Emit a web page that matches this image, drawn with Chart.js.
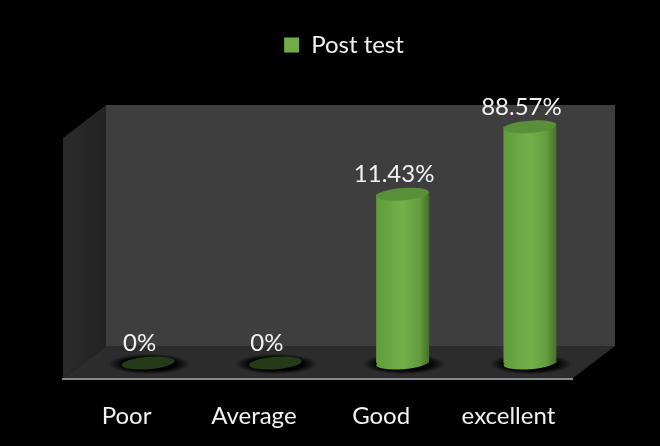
<!DOCTYPE html>
<html>
<head>
<meta charset="utf-8">
<title>Post test</title>
<script src="https://cdn.jsdelivr.net/npm/chart.js@4/dist/chart.umd.min.js"></script>
<style>
  html, body { margin: 0; padding: 0; background: #000; }
  #wrap { position: relative; width: 660px; height: 446px; }
</style>
</head>
<body>
<div id="wrap"><canvas id="chart"></canvas></div>
<script>
const categories = ['Poor', 'Average', 'Good', 'excellent'];
const postTest = [0, 0, 11.43, 88.57];

const legendGreen = '#70ad47';
const fontFamily = 'Lato';
const fontSize = 24;
const textColor = '#f2f2f2';

// the original's bars are not linear in their labels, a log axis puts them where they were
const yMin = 0.0673;
const yMax = 546;

const barShare = 0.416;
const capRy = 6.2;
const capTilt = -0.075;

function barGradient(c) {
    if (c.dataIndex === undefined) return legendGreen;
    const scale = c.chart.scales.x;
    const x = scale.getPixelForValue(c.dataIndex);
    const half = scale.width / categories.length * barShare / 2;
    // scales are not laid out yet on the first pass
    if (!isFinite(x) || !isFinite(half)) return legendGreen;
    const g = c.chart.ctx.createLinearGradient(x - half, 0, x + half, 0);
    g.addColorStop(0, '#5f9c3b');
    g.addColorStop(0.5, '#72b14a');
    g.addColorStop(0.82, '#639c3e');
    g.addColorStop(1, '#44702b');
    return g;
}

// walls and floor behind the bars
const scenery = {
    id: 'scenery',
    beforeDraw(chart) {
        const ctx = chart.ctx;
        ctx.save();
        ctx.fillStyle = '#000';
        ctx.fillRect(0, 0, chart.width, chart.height);

        ctx.fillStyle = '#3e3e3e';
        ctx.fillRect(106, 105, 509, 241);

        let g = ctx.createLinearGradient(63, 0, 106, 0);
        g.addColorStop(0, '#2b2b2b');
        g.addColorStop(1, '#232323');
        ctx.fillStyle = g;
        poly(ctx, [[63, 138], [106, 105], [106, 346], [63, 378]]);

        ctx.fillStyle = '#2c2c2c';
        poly(ctx, [[63, 378], [106, 346], [615, 346], [573, 378]]);

        ctx.fillStyle = '#8a8a8a';
        ctx.fillRect(62, 378, 511, 2);
        ctx.restore();
    },
    beforeDatasetsDraw(chart) {
        const ctx = chart.ctx;
        chart.getDatasetMeta(0).data.forEach(bar => {
            const base = chart.scales.y.getPixelForValue(0);
            ctx.save();
            ctx.translate(bar.x + 1, base + 1);
            ctx.scale(1, 0.25);
            const r = 41;
            const g = ctx.createRadialGradient(0, 0, r * 0.65, 0, 0, r);
            g.addColorStop(0, 'rgba(0,0,0,1)');
            g.addColorStop(1, 'rgba(0,0,0,0)');
            ctx.fillStyle = g;
            ctx.beginPath();
            ctx.arc(0, 0, r, 0, Math.PI * 2);
            ctx.fill();
            ctx.restore();
        });
    },
    afterDatasetsDraw(chart) {
        const ctx = chart.ctx;
        const base = chart.scales.y.getPixelForValue(0);
        chart.getDatasetMeta(0).data.forEach((bar, i) => {
            const rx = bar.width / 2;
            if (postTest[i] === 0) {
                cap(ctx, bar.x, base, rx, '#243a18');
            } else {
                cap(ctx, bar.x, base, rx, bar.options.backgroundColor);
                cap(ctx, bar.x, bar.y, rx, '#5a8f3a');
            }
            ctx.save();
            ctx.fillStyle = textColor;
            ctx.font = fontSize + 'px ' + fontFamily;
            ctx.textAlign = 'center';
            ctx.textBaseline = 'middle';
            ctx.fillText(postTest[i] + '%', bar.x - 8.5, bar.y - 20);
            ctx.restore();
        });
    }
};

function poly(ctx, pts) {
    ctx.beginPath();
    pts.forEach((p, i) => i ? ctx.lineTo(p[0], p[1]) : ctx.moveTo(p[0], p[1]));
    ctx.closePath();
    ctx.fill();
}

function cap(ctx, x, y, rx, fill) {
    ctx.fillStyle = fill;
    ctx.beginPath();
    ctx.ellipse(x, y, rx, capRy, capTilt, 0, Math.PI * 2);
    ctx.fill();
}

// legend sits a little right of the plot centre in the original
const legendShift = {
    id: 'legendShift',
    afterLayout(chart) {
        chart.legend.left += 5;
        chart.legend.right += 5;
    }
};

new Chart(document.getElementById('chart'), {
    type: 'bar',
    data: {
        labels: categories,
        datasets: [{
            label: 'Post test',
            data: postTest,
            backgroundColor: barGradient,
            borderWidth: 0
        }]
    },
    options: {
        responsive: true,
        maintainAspectRatio: false,
        animation: false,
        layout: { padding: { left: 84.4, right: 66.4, top: 0, bottom: 0 } },
        datasets: { bar: { barPercentage: barShare, categoryPercentage: 1 } },
        plugins: {
            tooltip: { enabled: false },
            legend: {
                position: 'top',
                labels: {
                    color: textColor,
                    boxWidth: 15,
                    boxHeight: 15,
                    padding: 33,
                    font: { family: fontFamily, size: fontSize },
                    generateLabels: chart => [{
                        text: chart.data.datasets[0].label,
                        fillStyle: legendGreen,
                        strokeStyle: legendGreen,
                        lineWidth: 0,
                        fontColor: textColor,
                        datasetIndex: 0
                    }]
                }
            }
        },
        scales: {
            x: {
                grid: { display: false },
                border: { display: false },
                afterFit(scale) { scale.height = 83; },
                ticks: {
                    color: textColor,
                    padding: 31,
                    labelOffset: -21.5,
                    maxRotation: 0,
                    autoSkip: false,
                    font: { family: fontFamily, size: fontSize }
                }
            },
            y: {
                type: 'logarithmic',
                display: false,
                min: yMin,
                max: yMax
            }
        }
    },
    plugins: [scenery, legendShift]
});
</script>
</body>
</html>
